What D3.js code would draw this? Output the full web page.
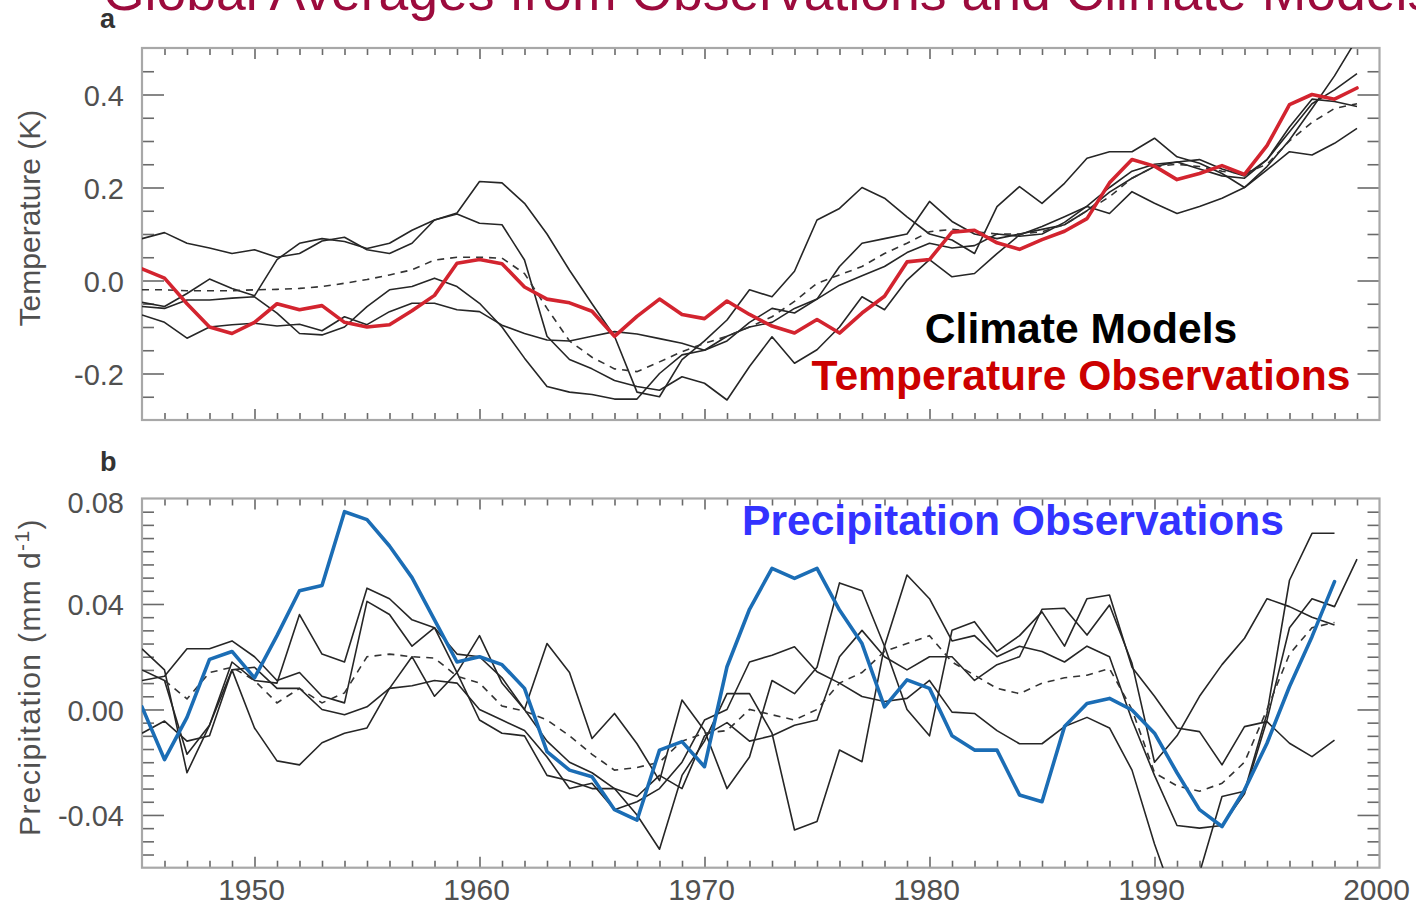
<!DOCTYPE html>
<html>
<head>
<meta charset="utf-8">
<script src="https://cdn.jsdelivr.net/npm/d3@7"></script>
<style>
  html, body { margin: 0; padding: 0; background: #fff; }
  svg { display: block; font-family: "Liberation Sans", Arial, Helvetica, sans-serif; }
</style>
</head>
<body>
<svg id="chart" width="1416" height="907"></svg>
<script>
// ---- Data: annual global means, 1945-1999 ----
const years = d3.range(1945, 2000);

// Panel a: temperature anomaly (K)
const tempObs = [
  0.025, 0.005, -0.05, -0.10, -0.114, -0.09, -0.05, -0.063, -0.054, -0.09,
  -0.10, -0.095, -0.065, -0.032, 0.037, 0.045, 0.036, -0.014, -0.04, -0.048,
  -0.066, -0.12, -0.077, -0.04, -0.073, -0.082, -0.044, -0.073, -0.098, -0.113,
  -0.084, -0.113, -0.07, -0.034, 0.04, 0.045, 0.104, 0.108, 0.081, 0.067,
  0.088, 0.106, 0.133, 0.21, 0.26, 0.246, 0.217, 0.23, 0.247, 0.228,
  0.29, 0.378, 0.40, 0.39, 0.414
];
const tempModel1 = [
  0.09, 0.103, 0.08, 0.07, 0.058, 0.066, 0.05, 0.058, 0.085, 0.093,
  0.066, 0.058, 0.08, 0.13, 0.145, 0.213, 0.21, 0.166, 0.10, 0.022,
  -0.05, -0.12, -0.24, -0.25, -0.17, -0.13, -0.085, -0.02, -0.035, 0.02,
  0.13, 0.155, 0.20, 0.177, 0.137, 0.10, 0.087, 0.058, 0.159, 0.202,
  0.166, 0.209, 0.263, 0.277, 0.277, 0.306, 0.266, 0.252, 0.23, 0.20,
  0.245, 0.302, 0.37, 0.44, 0.52
];
const tempModel2 = [
  -0.047, -0.056, -0.028, 0.003, -0.017, -0.033, 0.045, 0.08, 0.09, 0.084,
  0.069, 0.08, 0.108, 0.13, 0.143, 0.123, 0.12, 0.044, -0.12, -0.17,
  -0.19, -0.215, -0.228, -0.236, -0.207, -0.221, -0.257, -0.185, -0.121, -0.178,
  -0.149, -0.10, -0.035, -0.063, 0.001, 0.045, 0.008, 0.015, 0.058, 0.098,
  0.116, 0.137, 0.159, 0.144, 0.191, 0.166, 0.144, 0.159, 0.177, 0.20,
  0.238, 0.277, 0.27, 0.295, 0.327
];
const tempModel3 = [
  -0.056, -0.06, -0.042, -0.042, -0.038, -0.035, -0.07, -0.114, -0.117, -0.10,
  -0.056, -0.02, -0.013, 0.005, -0.013, -0.049, -0.10, -0.167, -0.228, -0.24,
  -0.245, -0.255, -0.255, -0.20, -0.16, -0.15, -0.13, -0.09, -0.06, -0.07,
  -0.04, 0.03, 0.08, 0.09, 0.10, 0.17, 0.127, 0.10, 0.09, 0.10,
  0.11, 0.12, 0.15, 0.19, 0.22, 0.245, 0.255, 0.24, 0.225, 0.22,
  0.26, 0.32, 0.38, 0.41, 0.445
];
const tempModel4 = [
  -0.074, -0.09, -0.124, -0.10, -0.095, -0.092, -0.098, -0.094, -0.108, -0.078,
  -0.095, -0.067, -0.049, -0.049, -0.063, -0.067, -0.096, -0.114, -0.128, -0.13,
  -0.12, -0.11, -0.115, -0.125, -0.135, -0.15, -0.12, -0.10, -0.09, -0.06,
  -0.04, -0.01, 0.01, 0.03, 0.06, 0.08, 0.07, 0.075, 0.10, 0.095,
  0.10, 0.125, 0.16, 0.20, 0.235, 0.25, 0.255, 0.26, 0.24, 0.225,
  0.26, 0.33, 0.39, 0.385, 0.374
];
const tempModelMean = [
  -0.02, -0.02, -0.022, -0.022, -0.022, -0.02, -0.019, -0.017, -0.013, -0.006,
  0.002, 0.012, 0.023, 0.044, 0.05, 0.05, 0.048, 0.015, -0.06, -0.13,
  -0.165, -0.19, -0.196, -0.175, -0.153, -0.135, -0.12, -0.10, -0.078, -0.045,
  -0.006, 0.012, 0.03, 0.058, 0.08, 0.105, 0.11, 0.105, 0.10, 0.10,
  0.105, 0.12, 0.15, 0.18, 0.22, 0.245, 0.25, 0.245, 0.235, 0.23,
  0.25, 0.30, 0.34, 0.37, 0.38
];

// Panel b: precipitation anomaly (mm/day)
const precipObs = [
  0.001, -0.019, -0.003, 0.019, 0.022, 0.012, 0.028, 0.045, 0.047, 0.075,
  0.072, 0.062, 0.05, 0.034, 0.018, 0.02, 0.017, 0.008, -0.016, -0.023,
  -0.0255, -0.038, -0.042, -0.0154, -0.0122, -0.0217, 0.0162, 0.038, 0.0535, 0.0497,
  0.0535, 0.0377, 0.025, 0.001, 0.0112, 0.008, -0.01, -0.0154, -0.0154, -0.0324,
  -0.035, -0.0065, 0.0023, 0.0042, -0.0002, -0.009, -0.024, -0.038, -0.0444, -0.0305,
  -0.0128, 0.0087, 0.0276, 0.0485, null
];
const precipModel1 = [
  0.023, 0.015, -0.024, -0.006, 0.018, 0.011, 0.010, 0.036, 0.021, 0.018,
  0.046, 0.042, 0.034, 0.031, 0.014, 0.028, 0.010, 0.000, 0.025, 0.014,
  -0.011, -0.0015, -0.013, -0.027, 0.0036, -0.008, -0.030, -0.018, 0.011, 0.006,
  0.016, 0.048, 0.045, 0.024, 0.000, -0.010, 0.030, 0.0333, 0.022, 0.028,
  0.037, 0.024, 0.042, 0.0434, 0.016, 0.005, -0.007, -0.0084, -0.021, -0.0065,
  -0.0046, -0.0128, -0.0179, -0.0116, null
];
const precipModel2 = [
  0.011, 0.0126, 0.023, 0.023, 0.026, 0.020, 0.011, 0.014, 0.005, 0.0025,
  0.041, 0.036, 0.024, 0.031, 0.021, 0.020, 0.012, 0.000, -0.012, -0.020,
  -0.024, -0.030, -0.040, -0.053, -0.025, -0.012, 0.006, 0.006, -0.009, -0.0457,
  -0.0425, -0.0154, -0.0198, 0.024, 0.051, 0.042, 0.026, 0.028, 0.020, 0.024,
  0.022, 0.018, 0.024, 0.020, -0.004, -0.025, -0.044, -0.045, -0.044, -0.032,
  -0.004, 0.031, 0.042, 0.039, 0.057
];
const precipModel3 = [
  0.015, 0.011, -0.017, -0.006, 0.015, 0.016, 0.008, 0.008, 0.000, -0.002,
  0.001, 0.008, 0.009, 0.011, 0.010, 0.000, -0.004, -0.008, -0.018, -0.030,
  -0.028, -0.038, -0.035, -0.030, -0.020, -0.004, 0.000, 0.018, 0.0206, 0.0238,
  0.0143, 0.010, 0.0049, 0.003, 0.0042, 0.011, -0.001, -0.0015, -0.008, -0.013,
  -0.013, -0.0065, -0.003, -0.007, -0.023, -0.051, -0.075, -0.062, -0.033, -0.031,
  -0.0015, 0.049, 0.0668, 0.0668, null
];
const precipModel4 = [
  -0.009, -0.0044, -0.012, -0.010, 0.015, -0.007, -0.0195, -0.021, -0.0126, -0.009,
  -0.007, 0.008, 0.020, 0.005, 0.014, -0.004, -0.009, -0.010, -0.025, -0.027,
  -0.030, -0.030, -0.033, -0.025, -0.030, -0.010, -0.005, -0.012, -0.010, -0.006,
  -0.004, 0.020, 0.030, 0.020, 0.015, 0.020, 0.020, 0.011, 0.017, 0.020,
  0.038, 0.0384, 0.0282, 0.0396, 0.0175, -0.020, -0.010, 0.005, 0.017, 0.027,
  0.042, 0.039, 0.035, 0.032, null
];
const precipModelMean = [
  null, 0.011, 0.004, 0.014, 0.016, 0.011, 0.0025, 0.008, 0.0025, 0.0063,
  0.020, 0.021, 0.020, 0.0195, 0.0126, 0.010, 0.0013, -0.0006, -0.004, -0.010,
  -0.017, -0.023, -0.022, -0.020, -0.012, -0.009, -0.008, 0.000, -0.002, -0.004,
  0.000, 0.010, 0.014, 0.022, 0.025, 0.028, 0.018, 0.013, 0.008, 0.006,
  0.010, 0.012, 0.013, 0.0155, 0.000, -0.024, -0.029, -0.031, -0.028, -0.020,
  0.000, 0.021, 0.031, 0.033, null
];

// Axis labels
const tempTicks = [-0.2, 0.0, 0.2, 0.4];
const precipTicks = [-0.04, 0.00, 0.04, 0.08];
const yearLabels = [1950, 1960, 1970, 1980, 1990, 2000];

// ---- Layout ----
const svg = d3.select("#chart");
const FONT = '"Liberation Sans", Arial, Helvetica, sans-serif';
const xLeft = 142, xRight = 1379.5;
const x = d3.scaleLinear().domain([1945, 2000]).range([xLeft, xRight]);

const panels = [
  {
    id: "a", top: 48, bottom: 420, domain: [-0.3, 0.5],
    labels: tempTicks, fmt: v => v.toFixed(1),
    minorStep: 0.05,
    models: [tempModel1, tempModel2, tempModel3, tempModel4],
    mean: tempModelMean, obs: tempObs, obsColor: "#d3242f"
  },
  {
    id: "b", top: 498.5, bottom: 867.7, domain: [-0.06, 0.08],
    labels: precipTicks, fmt: v => v.toFixed(2),
    minorStep: 0.005,
    models: [precipModel1, precipModel2, precipModel3, precipModel4],
    mean: precipModelMean, obs: precipObs, obsColor: "#1b6db5"
  }
];

const defs = svg.append("defs");

panels.forEach(p => {
  const y = d3.scaleLinear().domain(p.domain).range([p.bottom, p.top]);
  const g = svg.append("g").attr("class", "panel-" + p.id);

  // clip region for the series
  defs.append("clipPath").attr("id", "clip-" + p.id)
    .append("rect")
    .attr("x", xLeft).attr("y", p.top)
    .attr("width", xRight - xLeft).attr("height", p.bottom - p.top);

  // tick values
  const nMinor = Math.round((p.domain[1] - p.domain[0]) / p.minorStep);
  const minorVals = d3.range(1, nMinor).map(i => +(p.domain[0] + i * p.minorStep).toFixed(4))
    .filter(v => !p.labels.some(l => Math.abs(l - v) < 1e-6));
  const majorVals = p.labels.filter(v => v > p.domain[0] + 1e-6 && v < p.domain[1] - 1e-6);

  const styleTicks = sel => {
    sel.select(".domain").remove();
    sel.selectAll("line").attr("stroke", "#6a6a6a").attr("stroke-width", 1.6);
  };

  // inward ticks: left side
  g.append("g").attr("transform", `translate(${xLeft},0)`)
    .call(d3.axisRight(y).tickValues(minorVals).tickSize(12).tickFormat(""))
    .call(styleTicks);
  g.append("g").attr("transform", `translate(${xLeft},0)`)
    .call(d3.axisRight(y).tickValues(majorVals).tickSize(22).tickFormat(""))
    .call(styleTicks);
  // inward ticks: right side
  g.append("g").attr("transform", `translate(${xRight},0)`)
    .call(d3.axisLeft(y).tickValues(minorVals).tickSize(12).tickFormat(""))
    .call(styleTicks);
  g.append("g").attr("transform", `translate(${xRight},0)`)
    .call(d3.axisLeft(y).tickValues(majorVals).tickSize(22).tickFormat(""))
    .call(styleTicks);

  // yearly ticks on top and bottom edges
  const yr = d3.range(1946, 2000).filter(v => v % 10 !== 0);
  const dec = [1950, 1960, 1970, 1980, 1990];
  g.append("g").attr("transform", `translate(0,${p.top})`)
    .call(d3.axisBottom(x).tickValues(yr).tickSize(7).tickFormat(""))
    .call(styleTicks);
  g.append("g").attr("transform", `translate(0,${p.top})`)
    .call(d3.axisBottom(x).tickValues(dec).tickSize(11).tickFormat(""))
    .call(styleTicks);
  g.append("g").attr("transform", `translate(0,${p.bottom})`)
    .call(d3.axisTop(x).tickValues(yr).tickSize(7).tickFormat(""))
    .call(styleTicks);
  g.append("g").attr("transform", `translate(0,${p.bottom})`)
    .call(d3.axisTop(x).tickValues(dec).tickSize(11).tickFormat(""))
    .call(styleTicks);

  // value labels on the left
  const lab = g.append("g").attr("transform", `translate(${xLeft},0)`)
    .call(d3.axisLeft(y).tickValues(p.labels).tickSize(0).tickPadding(18).tickFormat(p.fmt));
  lab.select(".domain").remove();
  lab.selectAll("text")
    .attr("font-family", FONT).attr("font-size", 29).attr("fill", "#505050")
    .attr("dy", d => (y(d) - p.top < 8 ? 6 : 3) + "px")
    .attr("dominant-baseline", "middle");

  // frame
  g.append("rect")
    .attr("x", xLeft).attr("y", p.top)
    .attr("width", xRight - xLeft).attr("height", p.bottom - p.top)
    .attr("fill", "none").attr("stroke", "#a8a8a8").attr("stroke-width", 2.2);

  // series
  const series = g.append("g").attr("clip-path", `url(#clip-${p.id})`);
  const line = arr => d3.line()
    .defined((d, i) => arr[i] != null)
    .x((d, i) => x(years[i]))
    .y((d, i) => y(arr[i]))(arr);

  p.models.forEach(m => {
    series.append("path").attr("d", line(m))
      .attr("fill", "none").attr("stroke", "#262626").attr("stroke-width", 1.6)
      .attr("stroke-linejoin", "round");
  });
  series.append("path").attr("d", line(p.mean))
    .attr("fill", "none").attr("stroke", "#333").attr("stroke-width", 1.6)
    .attr("stroke-dasharray", "7,6");
  series.append("path").attr("d", line(p.obs))
    .attr("fill", "none").attr("stroke", p.obsColor).attr("stroke-width", 3.6)
    .attr("stroke-linejoin", "round").attr("stroke-linecap", "round");

  // panel letter
  svg.append("text").attr("x", 100).attr("y", p.id === "a" ? 28 : 471)
    .attr("font-family", FONT).attr("font-weight", "bold").attr("font-size", 27)
    .attr("fill", "#333").text(p.id);
});

// year labels under the bottom panel
svg.append("g").selectAll("text").data(yearLabels).join("text")
  .attr("x", d => x(d) - 3).attr("y", 900)
  .attr("text-anchor", "middle")
  .attr("font-family", FONT).attr("font-size", 30).attr("fill", "#505050")
  .text(d => d);

// axis titles
svg.append("text")
  .attr("transform", "translate(40,218) rotate(-90)")
  .attr("text-anchor", "middle")
  .attr("font-family", FONT).attr("font-size", 30).attr("fill", "#505050")
  .text("Temperature (K)");

const pt = svg.append("text")
  .attr("transform", "translate(40,677) rotate(-90)")
  .attr("text-anchor", "middle")
  .attr("font-family", FONT).attr("font-size", 30).attr("letter-spacing", 1.4)
  .attr("fill", "#505050");
pt.append("tspan").text("Precipitation (mm d");
pt.append("tspan").attr("dy", -11).attr("font-size", 21).text("-1");
pt.append("tspan").attr("dy", 11).text(")");

// title
svg.append("text")
  .attr("x", 103).attr("y", 10)
  .attr("font-family", FONT).attr("font-size", 53.5).attr("fill", "#9c0b3d")
  .text("Global Averages from Observations and Climate Models");

// legend texts
svg.append("text").attr("x", 1081).attr("y", 343).attr("text-anchor", "middle")
  .attr("font-family", FONT).attr("font-weight", "bold").attr("font-size", 42.6)
  .attr("fill", "#000").text("Climate Models");
svg.append("text").attr("x", 1081).attr("y", 390).attr("text-anchor", "middle")
  .attr("font-family", FONT).attr("font-weight", "bold").attr("font-size", 42.6)
  .attr("fill", "#cc0000").text("Temperature Observations");
svg.append("text").attr("x", 1013).attr("y", 535).attr("text-anchor", "middle")
  .attr("font-family", FONT).attr("font-weight", "bold").attr("font-size", 42.6)
  .attr("fill", "#3333ff").text("Precipitation Observations");
</script>
</body>
</html>
